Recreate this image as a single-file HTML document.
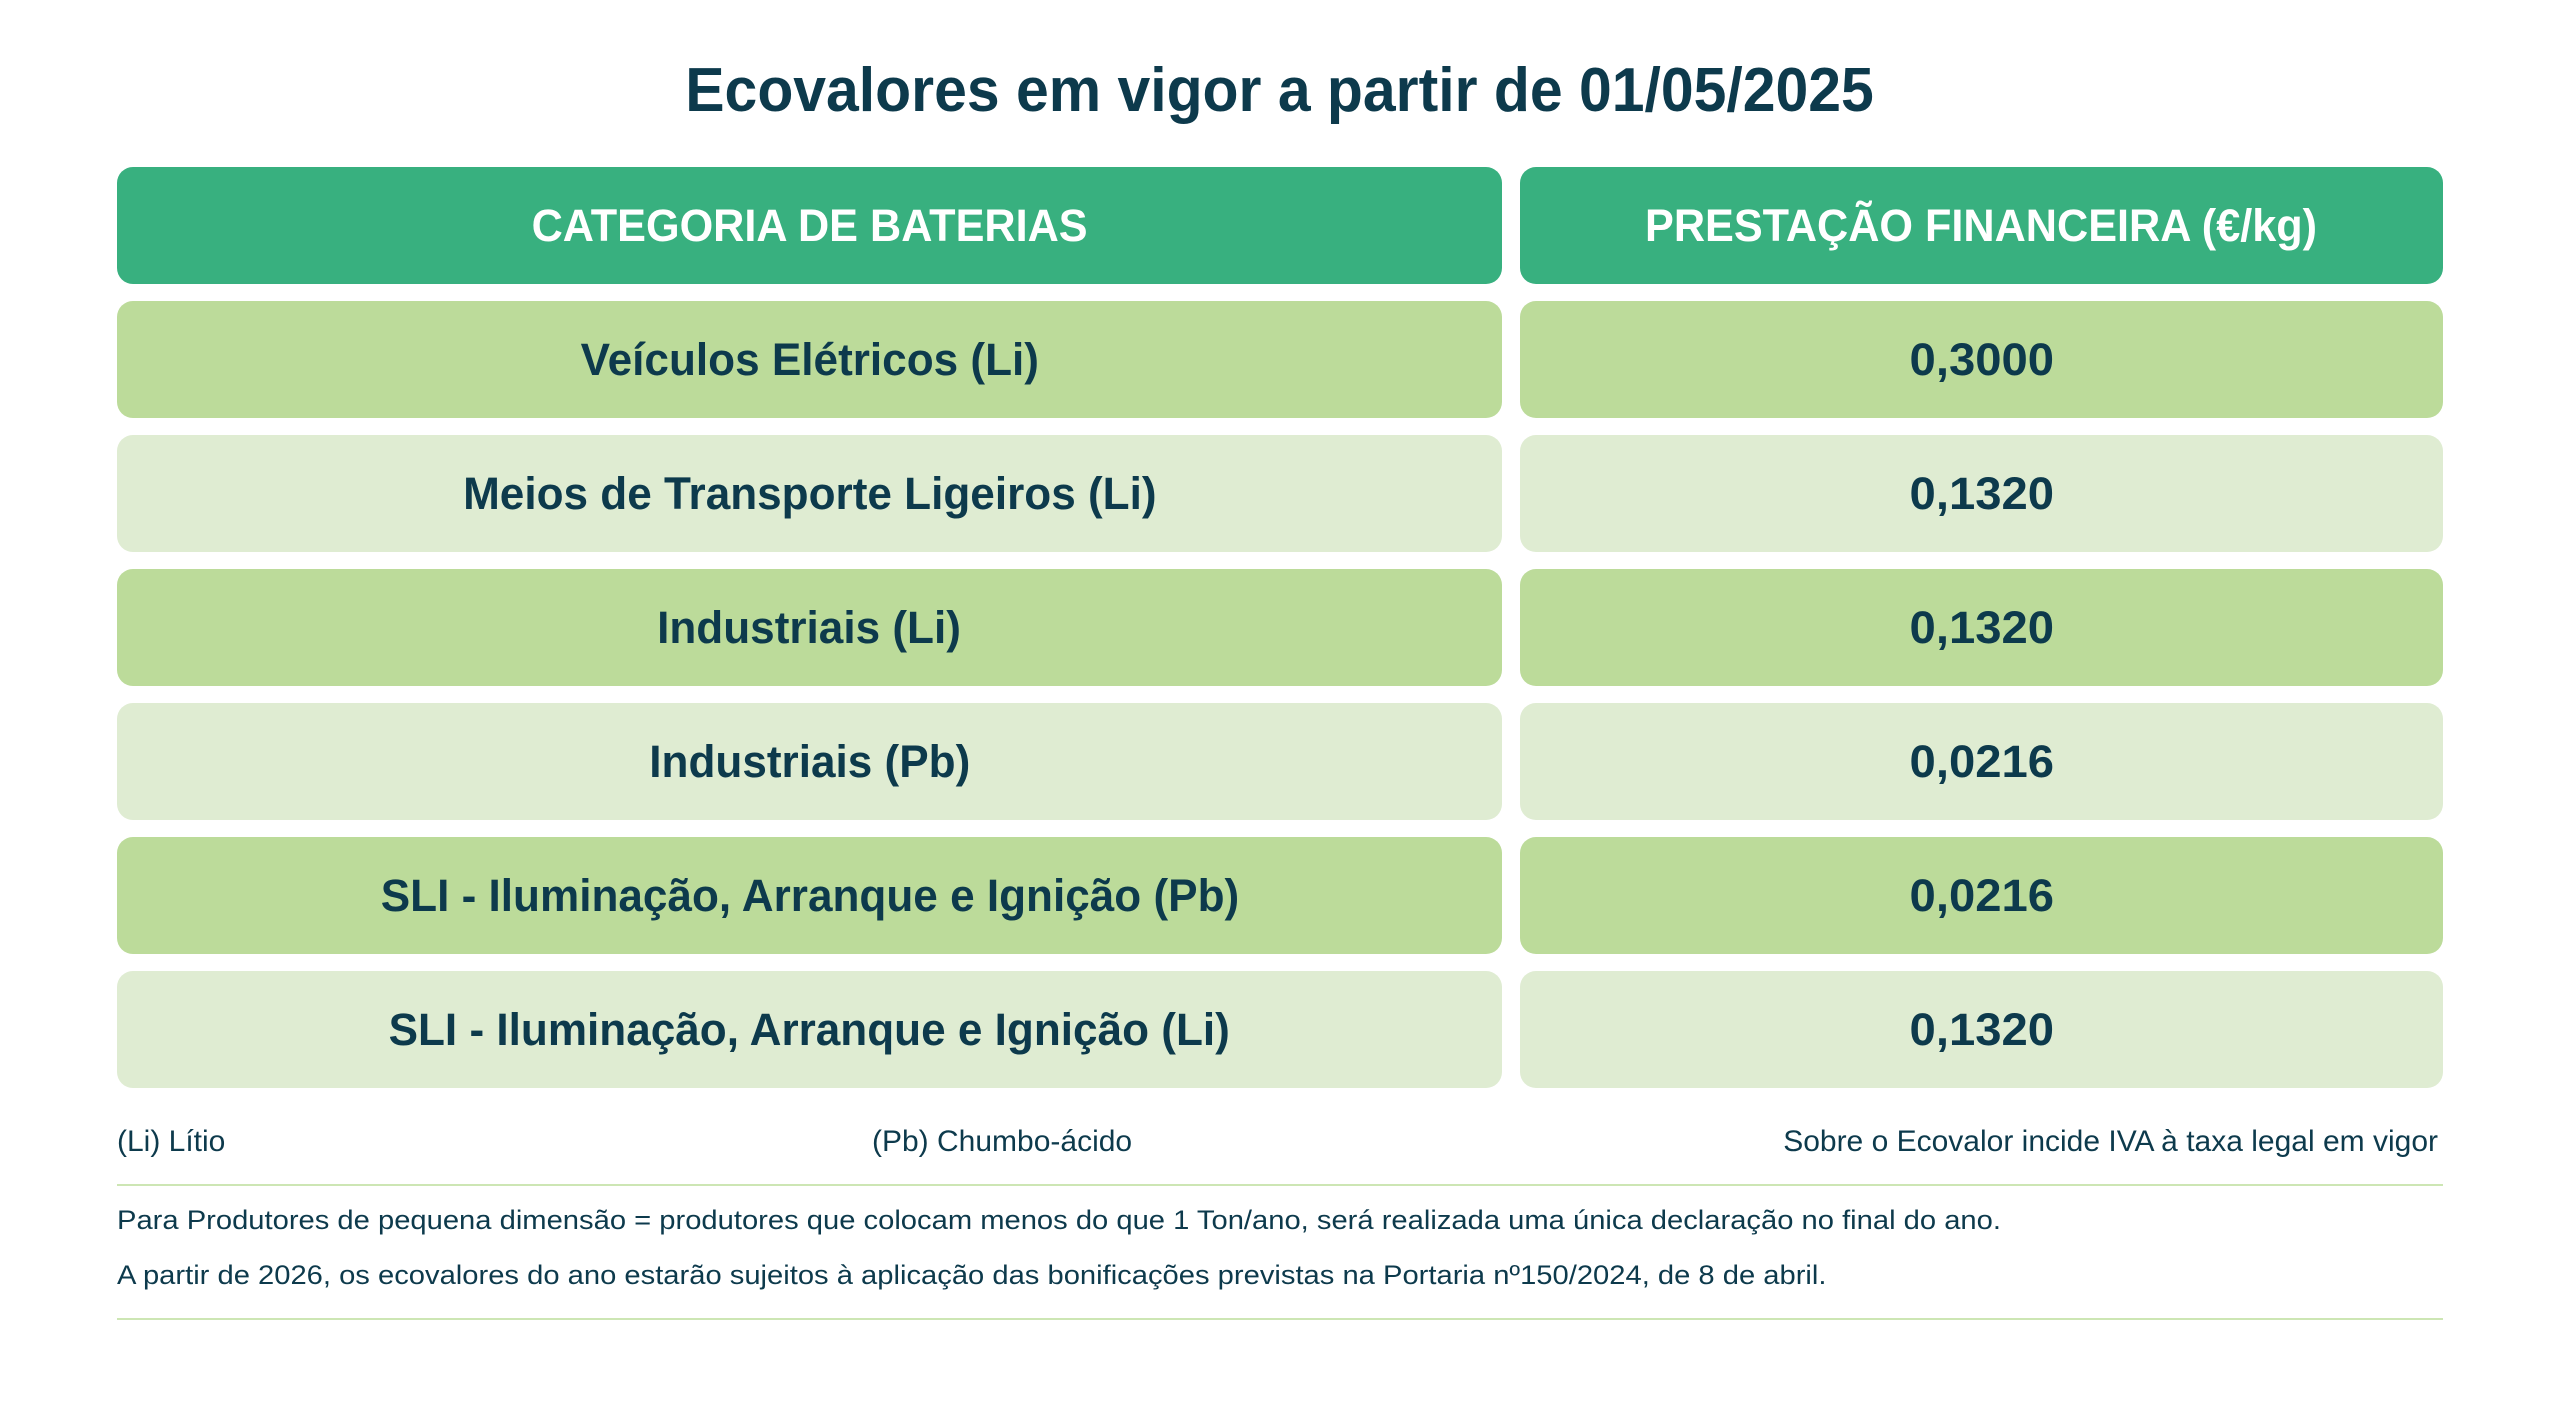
<!DOCTYPE html>
<html><head><meta charset="utf-8"><style>
*{margin:0;padding:0;box-sizing:border-box}
body{width:2560px;height:1420px;background:#fff;font-family:"Liberation Sans",sans-serif;color:#0d3a4c;position:relative;overflow:hidden}
.t{position:absolute;white-space:nowrap}
.c{display:inline-block;transform:scaleX(0.98);transform-origin:center}
.hc{display:inline-block;transform:scaleX(0.96);transform-origin:center}
.v{display:inline-block;transform:scaleX(1.05);transform-origin:center}
.box{position:absolute;border-radius:16px;display:flex;align-items:center;justify-content:center;font-weight:bold;font-size:45px}
.h{background:#38b07f;color:#fff}
.d{background:#bcdb9a}
.l{background:#dfecd2}
.L{left:117px;width:1385px}
.R{left:1520px;width:923px}
.hr{position:absolute;left:117px;width:2326px;height:2px;background:#cde6b4}
.s{font-size:30px}
.s2{font-size:27px}
.ls{display:inline-block;transform:scaleX(1.0);transform-origin:left}
.fs{display:inline-block;transform:scaleX(1.08);transform-origin:left}
.rs{display:inline-block;transform:scaleX(1.0);transform-origin:right}
</style></head><body>
<div class="t" style="left:0;width:2560px;text-align:center;top:55px;font-size:62px;font-weight:bold"><span style="display:inline-block;transform:scaleX(0.95)">Ecovalores em vigor a partir de 01/05/2025</span></div>

<div class="box h L" style="top:167px;height:117px"><span class="hc">CATEGORIA DE BATERIAS</span></div>
<div class="box h R" style="top:167px;height:117px"><span class="hc">PRESTAÇÃO FINANCEIRA (€/kg)</span></div>

<div class="box d L" style="top:301px;height:117px"><span class="c">Veículos Elétricos (Li)</span></div>
<div class="box d R" style="top:301px;height:117px"><span class="v">0,3000</span></div>
<div class="box l L" style="top:435px;height:117px"><span class="c">Meios de Transporte Ligeiros (Li)</span></div>
<div class="box l R" style="top:435px;height:117px"><span class="v">0,1320</span></div>
<div class="box d L" style="top:569px;height:117px"><span class="c">Industriais (Li)</span></div>
<div class="box d R" style="top:569px;height:117px"><span class="v">0,1320</span></div>
<div class="box l L" style="top:703px;height:117px"><span class="c">Industriais (Pb)</span></div>
<div class="box l R" style="top:703px;height:117px"><span class="v">0,0216</span></div>
<div class="box d L" style="top:837px;height:117px"><span class="c">SLI - Iluminação, Arranque e Ignição (Pb)</span></div>
<div class="box d R" style="top:837px;height:117px"><span class="v">0,0216</span></div>
<div class="box l L" style="top:971px;height:117px"><span class="c">SLI - Iluminação, Arranque e Ignição (Li)</span></div>
<div class="box l R" style="top:971px;height:117px"><span class="v">0,1320</span></div>

<div class="t s" style="left:117px;top:1125px"><span class="ls">(Li) Lítio</span></div>
<div class="t s" style="left:872px;top:1125px"><span class="ls">(Pb) Chumbo-ácido</span></div>
<div class="t s" style="right:122px;top:1125px"><span class="rs">Sobre o Ecovalor incide IVA à taxa legal em vigor</span></div>
<div class="hr" style="top:1184px"></div>
<div class="t s2" style="left:117px;top:1205px"><span class="fs">Para Produtores de pequena dimensão = produtores que colocam menos do que 1 Ton/ano, será realizada uma única declaração no final do ano.</span></div>
<div class="t s2" style="left:117px;top:1260px"><span class="fs">A partir de 2026, os ecovalores do ano estarão sujeitos à aplicação das bonificações previstas na Portaria nº150/2024, de 8 de abril.</span></div>
<div class="hr" style="top:1318px"></div>
</body></html>
